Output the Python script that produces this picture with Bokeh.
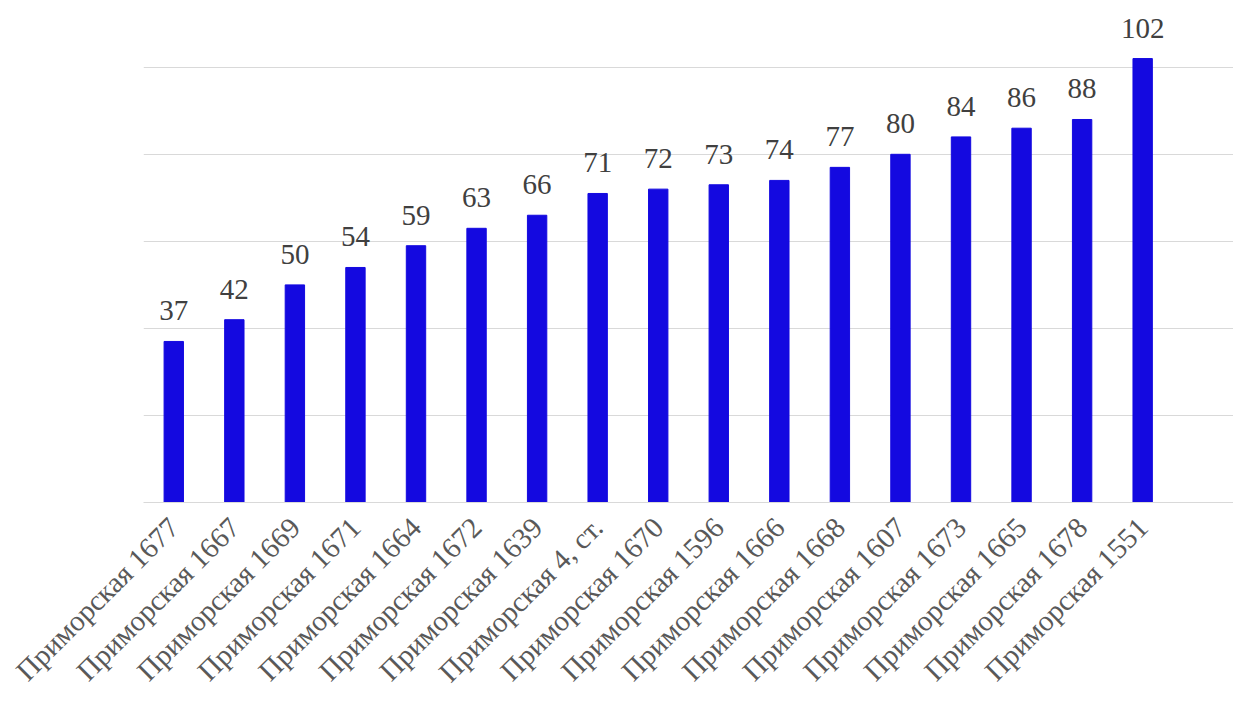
import math
from bokeh.plotting import figure
from bokeh.models import ColumnDataSource, Range1d, FixedTicker, LabelSet
from bokeh.embed import file_html
from bokeh.resources import INLINE

categories = ["Приморская 1677", "Приморская 1667", "Приморская 1669", "Приморская 1671",
              "Приморская 1664", "Приморская 1672", "Приморская 1639", "Приморская 4, ст.",
              "Приморская 1670", "Приморская 1596", "Приморская 1666", "Приморская 1668",
              "Приморская 1607", "Приморская 1673", "Приморская 1665", "Приморская 1678",
              "Приморская 1551"]
values = [37, 42, 50, 54, 59, 63, 66, 71, 72, 73, 74, 77, 80, 84, 86, 88, 102]
grid_ticks = [0, 20, 40, 60, 80, 100]

FONT = "Liberation Serif"

xs = list(range(len(categories)))
src = ColumnDataSource(dict(x=xs, top=values, lbl=[str(v) for v in values]))

p = figure(width=1233, height=712, output_backend="svg", toolbar_location=None,
           x_range=Range1d(-0.5, len(categories) + 0.5), y_range=Range1d(0, 113.5),
           min_border_left=143, min_border_right=0, min_border_top=8, min_border_bottom=210)
p.outline_line_color = None
p.background_fill_color = "white"
p.border_fill_color = "white"

p.vbar(x="x", top="top", bottom=0, width=0.32, source=src, color="#1409E0")

labels = LabelSet(x="x", y="top", text="lbl", source=src, text_align="center",
                  text_baseline="alphabetic", y_offset=21, text_font=FONT,
                  text_font_size="29px", text_color="#404040")
p.add_layout(labels)

p.yaxis.visible = False
p.ygrid.ticker = FixedTicker(ticks=grid_ticks)
p.ygrid.grid_line_color = "#d9d9d9"
p.ygrid.grid_line_width = 1
p.xgrid.grid_line_color = None

p.xaxis.ticker = FixedTicker(ticks=xs)
p.xaxis.major_label_overrides = {i: c for i, c in zip(xs, categories)}
p.xaxis.major_label_orientation = math.pi / 4
p.xaxis.major_label_text_font = FONT
p.xaxis.major_label_text_font_size = "29px"
p.xaxis.major_label_text_color = "#595959"
p.xaxis.major_label_standoff = 14
p.xaxis.axis_line_color = "#d9d9d9"
p.xaxis.major_tick_line_color = None
p.xaxis.minor_tick_line_color = None

open("out.html", "w").write(file_html(p, INLINE))
